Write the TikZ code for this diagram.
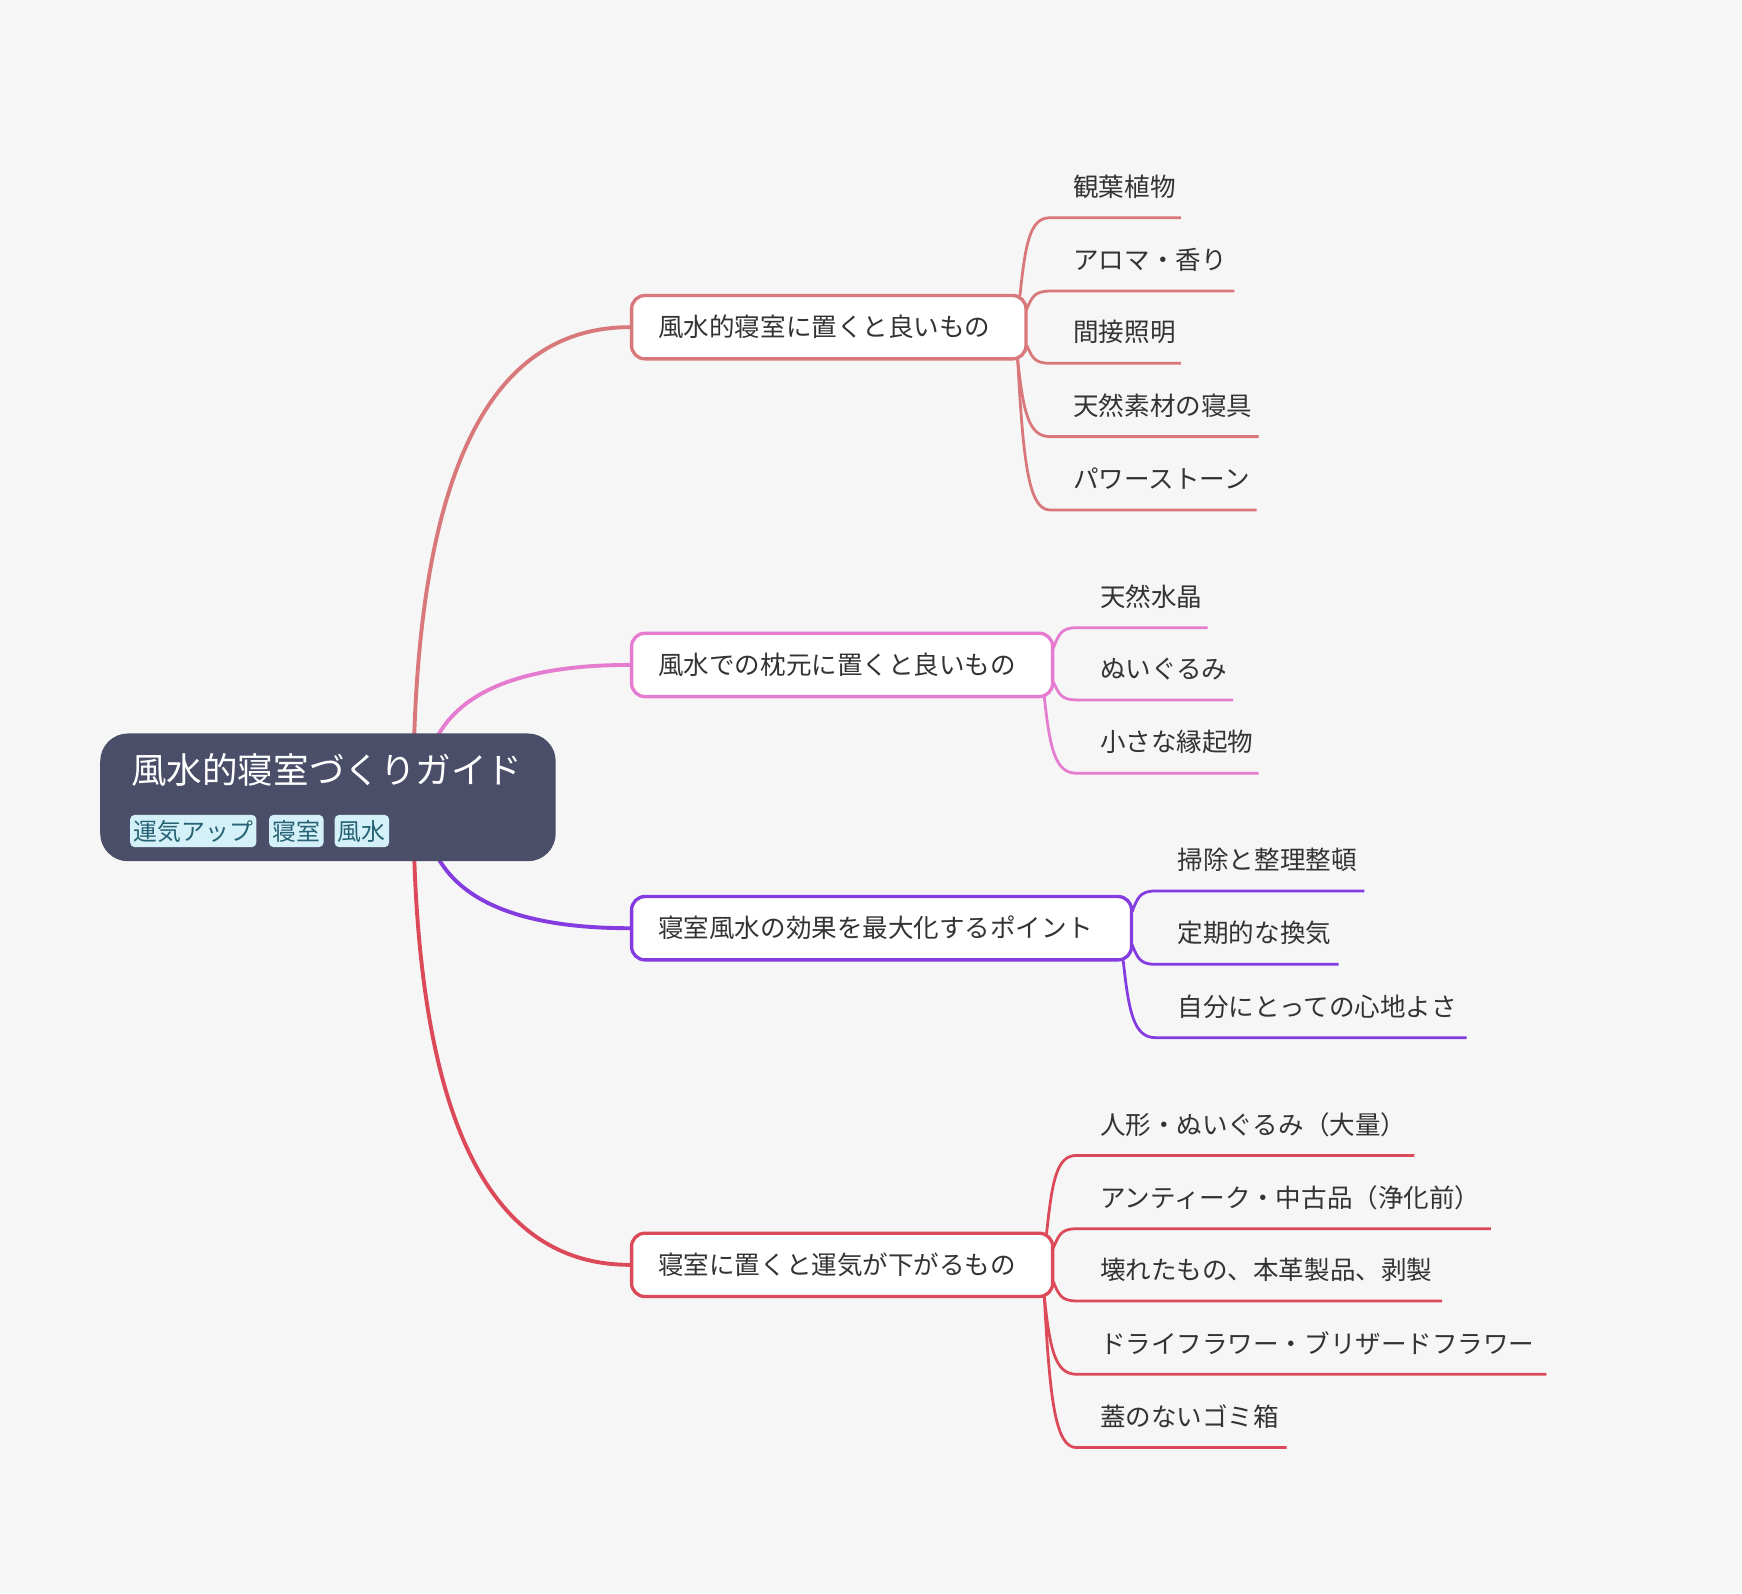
\documentclass[tikz,border=0pt]{standalone}
\usepackage{fontspec}
\setmainfont{Noto Sans CJK JP}
\usetikzlibrary{calc}
\pgfdeclarelayer{bglayer}
\pgfdeclarelayer{linelayer}
\pgfsetlayers{bglayer,linelayer,main}
\definecolor{bgc}{RGB}{246,246,246}
\definecolor{rootc}{RGB}{74,78,105}
\definecolor{tagc}{RGB}{212,240,248}
\definecolor{tagt}{RGB}{38,98,115}
\definecolor{txt}{RGB}{51,51,51}
\definecolor{ca}{RGB}{217,120,123}
\definecolor{cb}{RGB}{230,124,208}
\definecolor{cc}{RGB}{132,60,224}
\definecolor{cd}{RGB}{220,74,90}
\tikzset{
  rootbox/.style={fill=rootc, rounded corners=25pt, minimum width=410pt, minimum height=115pt, inner sep=0pt},
  childbox/.style={draw=#1, line width=3pt, fill=white, rounded corners=12pt, minimum height=57pt, inner xsep=24pt, inner ysep=0pt, align=left, text=txt, font=\fontsize{23}{23}\selectfont},
  leaf/.style={text=txt, font=\fontsize{23}{23}\selectfont, inner sep=0pt, anchor=west},
  twigline/.style={draw=#1, line width=2.5pt},
  mainline/.style={draw=#1, line width=3.5pt},
  tag/.style={fill=tagc, text=tagt, rounded corners=4pt, inner xsep=3pt, inner ysep=0pt, minimum height=29pt, font=\fontsize{21.5}{21.5}\selectfont, anchor=west},
  titletext/.style={text=white, font=\fontsize{32}{32}\selectfont, inner sep=0pt, anchor=west}
}
\newcommand\twig[4]{\draw[twigline=#4] (#1) .. controls ($(#1)!0.67!(#1|-#2)+(5,0)$) and ($(#2)!0.67!(#1|-#2)$) .. (#2) -- (#3);}
\newcommand\branchline[3]{\draw[mainline=#3] (#1) .. controls ($(#1)!0.67!(#1|-#2)$) and ($(#2)!0.67!(#1|-#2)$) .. (#2);}
\begin{document}
\begin{tikzpicture}[x=1pt,y=-1pt]
\begin{pgfonlayer}{bglayer}
\fill[bgc] (0,0) rectangle (1568,1434);
\end{pgfonlayer}
\useasboundingbox (0,0) rectangle (1568,1434);

% root
\node[rootbox, anchor=north west] (root) at (90,660) {};
\node[titletext] (title) at (118,693) {風水的寝室づくりガイド};
\node[tag] (t1) at (117,748) {運気アップ};
\node[tag] (t2) at (242,748) {寝室};
\node[tag] (t3) at (301,748) {風水};

% main topics
\node[childbox=ca, text width=307pt, anchor=west] (b1) at (567,294.5) {風水的寝室に置くと良いもの};
\node[childbox=cb, text width=331pt, anchor=west] (b2) at (567,598.5) {風水での枕元に置くと良いもの};
\node[childbox=cc, text width=402pt, anchor=west] (b3) at (567,835.5) {寝室風水の効果を最大化するポイント};
\node[childbox=cd, text width=331pt, anchor=west] (b4) at (567,1138.5) {寝室に置くと運気が下がるもの};

% leaves branch 1
\node[leaf] (a1) at (966,168) {観葉植物};
\node[leaf] (a2) at (966,234) {アロマ・香り};
\node[leaf] (a3) at (966,299) {間接照明};
\node[leaf] (a4) at (966,365) {天然素材の寝具};
\node[leaf] (a5) at (966,431) {パワーストーン};
% leaves branch 2
\node[leaf] (p1) at (990,537) {天然水晶};
\node[leaf] (p2) at (990,602) {ぬいぐるみ};
\node[leaf] (p3) at (990,668) {小さな縁起物};
% leaves branch 3
\node[leaf] (q1) at (1060,774) {掃除と整理整頓};
\node[leaf] (q2) at (1060,840) {定期的な換気};
\node[leaf] (q3) at (1060,906) {自分にとっての心地よさ};
% leaves branch 4
\node[leaf] (d1) at (990,1012) {人形・ぬいぐるみ（大量）};
\node[leaf] (d2) at (990,1078) {アンティーク・中古品（浄化前）};
\node[leaf] (d3) at (990,1143) {壊れたもの、本革製品、剥製};
\node[leaf] (d4) at (990,1209) {ドライフラワー・ブリザードフラワー};
\node[leaf] (d5) at (990,1275) {蓋のないゴミ箱};

\begin{pgfonlayer}{linelayer}
% root branches
\coordinate (r1) at ($(root.north west)+(282,57)$);
\coordinate (r2) at ($(root.north west)+(291,57)$);
\branchline{r1}{b1.west}{ca}
\branchline{r2}{b2.west}{cb}
\branchline{r2}{b3.west}{cc}
\branchline{r1}{b4.west}{cd}

% branch 1 twigs
\coordinate (a1o) at ($(b1.north east)+(-7,2)$);
\coordinate (a2o) at ($(b1.east)+(-1,-16)$);
\coordinate (a3o) at ($(b1.east)+(-1,16)$);
\coordinate (a4o) at ($(b1.south east)+(-9,-1)$);
\coordinate (a1s) at (945,196); \coordinate (a1e) at (1063,196);
\coordinate (a2s) at (945,262); \coordinate (a2e) at (1111,262);
\coordinate (a3s) at (945,327); \coordinate (a3e) at (1063,327);
\coordinate (a4s) at (945,393); \coordinate (a4e) at (1133,393);
\coordinate (a5s) at (945,459); \coordinate (a5e) at (1131,459);
\twig{a1o}{a1s}{a1e}{ca}
\twig{a2o}{a2s}{a2e}{ca}
\twig{a3o}{a3s}{a3e}{ca}
\twig{a4o}{a4s}{a4e}{ca}
\twig{a4o}{a5s}{a5e}{ca}

% branch 2 twigs
\coordinate (p1o) at ($(b2.east)+(-1,-15)$);
\coordinate (p2o) at ($(b2.east)+(-1,15)$);
\coordinate (p3o) at ($(b2.south east)+(-9,-1)$);
\coordinate (p1s) at (969,565); \coordinate (p1e) at (1087,565);
\coordinate (p2s) at (969,630); \coordinate (p2e) at (1110,630);
\coordinate (p3s) at (969,696); \coordinate (p3e) at (1133,696);
\twig{p1o}{p1s}{p1e}{cb}
\twig{p2o}{p2s}{p2e}{cb}
\twig{p3o}{p3s}{p3e}{cb}

% branch 3 twigs
\coordinate (q1o) at ($(b3.east)+(-1,-15)$);
\coordinate (q2o) at ($(b3.east)+(-1,15)$);
\coordinate (q3o) at ($(b3.south east)+(-9,-1)$);
\coordinate (q1s) at (1040,802); \coordinate (q1e) at (1228,802);
\coordinate (q2s) at (1040,868); \coordinate (q2e) at (1205,868);
\coordinate (q3s) at (1040,934); \coordinate (q3e) at (1320,934);
\twig{q1o}{q1s}{q1e}{cc}
\twig{q2o}{q2s}{q2e}{cc}
\twig{q3o}{q3s}{q3e}{cc}

% branch 4 twigs
\coordinate (d1o) at ($(b4.north east)+(-7,2)$);
\coordinate (d2o) at ($(b4.east)+(-1,-15)$);
\coordinate (d3o) at ($(b4.east)+(-1,15)$);
\coordinate (d4o) at ($(b4.south east)+(-9,-1)$);
\coordinate (d1s) at (969,1040); \coordinate (d1e) at (1273,1040);
\coordinate (d2s) at (969,1106); \coordinate (d2e) at (1342,1106);
\coordinate (d3s) at (969,1171); \coordinate (d3e) at (1298,1171);
\coordinate (d4s) at (969,1237); \coordinate (d4e) at (1392,1237);
\coordinate (d5s) at (969,1303); \coordinate (d5e) at (1158,1303);
\twig{d1o}{d1s}{d1e}{cd}
\twig{d2o}{d2s}{d2e}{cd}
\twig{d3o}{d3s}{d3e}{cd}
\twig{d4o}{d4s}{d4e}{cd}
\twig{d4o}{d5s}{d5e}{cd}
\end{pgfonlayer}
\end{tikzpicture}
\end{document}
